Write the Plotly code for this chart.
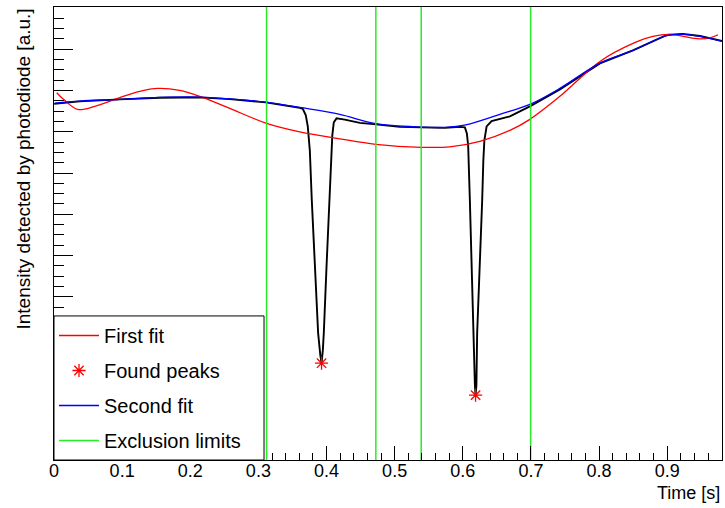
import plotly.graph_objects as go

# ---- data (time in s, intensity in arbitrary units) ----
data_t = [0.0003, 0.0377, 0.0965, 0.1552, 0.2139, 0.2580, 0.3109, 0.3461, 0.3608, 0.3652,
          0.3696, 0.3725, 0.3755, 0.3784, 0.3828, 0.3877, 0.3909, 0.3927, 0.3946, 0.3960,
          0.4000, 0.4048, 0.4070, 0.4085, 0.4107, 0.4147, 0.4269, 0.4489, 0.4724, 0.5076,
          0.5389, 0.5737, 0.5957, 0.6031, 0.6060, 0.6079, 0.6104, 0.6129, 0.6153, 0.6178,
          0.6188, 0.6200, 0.6211, 0.6251, 0.6285, 0.6302, 0.6317, 0.6350, 0.6423, 0.6692,
          0.6985, 0.7426, 0.8013, 0.8498, 0.8997, 0.9232, 0.9482, 0.9805]
data_i = [8.674, 8.735, 8.783, 8.824, 8.831, 8.788, 8.710, 8.626, 8.577, 8.553,
          8.396, 8.130, 7.549, 6.339, 4.725, 3.121, 2.589, 2.395, 2.710, 3.121,
          4.725, 6.339, 7.307, 7.912, 8.226, 8.323, 8.292, 8.214, 8.178, 8.118,
          8.106, 8.093, 8.118, 8.106, 7.960, 7.670, 6.339, 4.725, 3.121, 1.863,
          1.621, 1.863, 3.121, 4.725, 6.339, 7.307, 7.791, 8.130, 8.258, 8.372,
          8.614, 9.025, 9.654, 9.969, 10.344, 10.368, 10.319, 10.199]

fit1_t = [0.0040, 0.0157, 0.0348, 0.0598, 0.0921, 0.1258, 0.1523, 0.1846, 0.2139, 0.2580,
          0.3109, 0.3608, 0.4195, 0.4724, 0.5389, 0.5811, 0.6251, 0.6692, 0.6985, 0.7426,
          0.8013, 0.8498, 0.8791, 0.9041, 0.9438, 0.9628, 0.9746]
fit1_i = [8.945, 8.759, 8.541, 8.614, 8.800, 8.977, 9.049, 9.001, 8.856, 8.565,
          8.210, 7.997, 7.827, 7.694, 7.622, 7.634, 7.767, 8.033, 8.299, 8.856,
          9.702, 10.138, 10.307, 10.356, 10.252, 10.271, 10.348]

fit2_t = [0.0010, 0.0377, 0.0965, 0.1552, 0.2139, 0.2580, 0.3109, 0.3608, 0.4195, 0.4724,
          0.5389, 0.5737, 0.6045, 0.6545, 0.6985, 0.7426, 0.8013, 0.8498, 0.8997, 0.9232,
          0.9482, 0.9805]
fit2_i = [8.693, 8.742, 8.783, 8.831, 8.839, 8.795, 8.718, 8.589, 8.420, 8.195,
          8.113, 8.106, 8.166, 8.420, 8.662, 9.049, 9.661, 9.969, 10.324, 10.356,
          10.307, 10.186]

peaks_t = [0.3927, 0.6188]
peaks_i = [2.395, 1.621]

limits_t = [0.312, 0.4724, 0.539, 0.6996]

x_range = [0.0, 0.9805]
y_range = [0.05, 11.02]
x_ticks = [0.0, 0.1, 0.2, 0.3, 0.4, 0.5, 0.6, 0.7, 0.8, 0.9]
x_tick_text = ["0", "0.1", "0.2", "0.3", "0.4", "0.5", "0.6", "0.7", "0.8", "0.9"]

FONT = "Liberation Sans, Arial, sans-serif"
RED = "rgb(255,0,0)"

fig = go.Figure()

fig.add_trace(go.Scatter(x=data_t, y=data_i, mode="lines", showlegend=False,
                         line=dict(color="black", width=1.9), hoverinfo="skip"))
fig.add_trace(go.Scatter(x=fit1_t, y=fit1_i, mode="lines", name="First fit",
                         legendgroup="a",
                         line=dict(color=RED, width=1.3, shape="spline")))
fig.add_trace(go.Scatter(x=peaks_t, y=peaks_i, mode="markers", name="Found peaks",
                         legendgroup="b",
                         marker=dict(symbol="asterisk-open", size=11, color=RED,
                                     line=dict(color=RED, width=1.3))))
fig.add_trace(go.Scatter(x=fit2_t, y=fit2_i, mode="lines", name="Second fit",
                         legendgroup="c",
                         line=dict(color="rgb(0,0,255)", width=1.3, shape="spline")))

gx, gy = [], []
for t in limits_t:
    gx += [t, t, None]
    gy += [y_range[0], y_range[1], None]
fig.add_trace(go.Scatter(x=gx, y=gy, mode="lines", name="Exclusion limits",
                         legendgroup="d",
                         line=dict(color="rgb(40,235,40)", width=1.5)))

fig.update_layout(
    width=725, height=508,
    margin=dict(l=54, r=3, t=7, b=48),
    paper_bgcolor="white", plot_bgcolor="white",
    font=dict(family=FONT, size=18, color="black"),
    showlegend=True,
    legend=dict(x=0, y=0.0, xanchor="left", yanchor="bottom",
                borderwidth=0, bgcolor="rgba(0,0,0,0)",
                font=dict(size=20), traceorder="grouped", tracegroupgap=6,
                itemwidth=40),
    shapes=[dict(type="rect", xref="paper", yref="paper",
                 x0=0, x1=0.3144, y0=0, y1=0.318, layer="above",
                 fillcolor="white", line=dict(color="black", width=1))],
    xaxis=dict(range=x_range, showgrid=False, zeroline=False,
               showline=True, mirror=True, linecolor="black", linewidth=1,
               ticks="inside", ticklen=14, tickcolor="black", tickwidth=1,
               tickmode="array", tickvals=x_ticks, ticktext=x_tick_text,
               tickfont=dict(size=18), ticklabelstandoff=-6,
               minor=dict(ticks="inside", ticklen=7, dtick=0.02, tick0=0,
                          tickcolor="black", showgrid=False)),
    yaxis=dict(range=y_range, showgrid=False, zeroline=False,
               showline=True, mirror=True, linecolor="black", linewidth=1,
               ticks="inside", ticklen=19, tickcolor="black", tickwidth=1,
               tick0=0, dtick=1, showticklabels=False,
               minor=dict(ticks="inside", ticklen=10, dtick=0.25, tick0=0,
                          tickcolor="black", showgrid=False)),
    annotations=[
        dict(text="Time [s]", xref="paper", yref="paper", x=1, y=0,
             xanchor="right", yanchor="top", yshift=-21, showarrow=False,
             font=dict(size=18)),
        dict(text="Intensity detected by photodiode [a.u.]", xref="paper",
             yref="paper", x=0, y=1, xanchor="center", yanchor="top",
             xshift=-31, textangle=-90, showarrow=False, font=dict(size=19)),
    ],
)

fig.write_html("out.html")
